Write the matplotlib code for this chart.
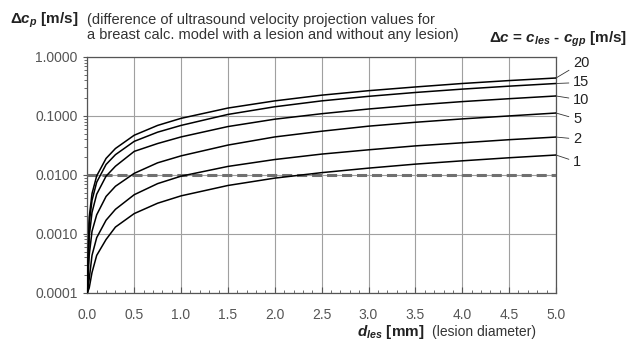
import numpy as np
import matplotlib
matplotlib.use("Agg")
import matplotlib.pyplot as plt
from matplotlib.ticker import MultipleLocator, FormatStrFormatter, LogLocator

plt.rcParams["font.family"] = ["Liberation Sans", "DejaVu Sans"]
plt.rcParams["mathtext.fontset"] = "custom"
plt.rcParams["mathtext.rm"] = "Liberation Sans"
plt.rcParams["mathtext.it"] = "Liberation Sans:italic"
plt.rcParams["mathtext.bf"] = "Liberation Sans:bold"
plt.rcParams["mathtext.bfit"] = "Liberation Sans:bold:italic"

# lesion diameter [mm]
d_les = [0.0, 0.02, 0.05, 0.1, 0.2, 0.3, 0.5, 0.75, 1.0, 1.5, 2.0, 2.5, 3.0, 3.5, 4.0, 4.5, 5.0]

# delta c_p [m/s] for each delta c = c_les - c_gp
dc_labels = ["20", "15", "10", "5", "2", "1"]
dcp_20 = [1e-4, 0.0019, 0.0048, 0.0096, 0.019, 0.028, 0.047, 0.069, 0.091, 0.136, 0.18, 0.225, 0.268, 0.31, 0.355, 0.398, 0.44]
dcp_15 = [1e-4, 0.0015, 0.0037, 0.0075, 0.015, 0.022, 0.037, 0.053, 0.069, 0.106, 0.143, 0.18, 0.215, 0.25, 0.285, 0.32, 0.355]
dcp_10 = [1e-4, 0.0009, 0.0023, 0.0047, 0.0095, 0.014, 0.025, 0.034, 0.044, 0.066, 0.088, 0.109, 0.131, 0.153, 0.175, 0.196, 0.218]
dcp_5 = [1e-4, 0.00043, 0.0011, 0.0021, 0.0043, 0.0064, 0.0106, 0.016, 0.021, 0.032, 0.044, 0.055, 0.067, 0.078, 0.089, 0.10, 0.112]
dcp_2 = [1e-4, 0.00017, 0.00043, 0.00086, 0.0017, 0.0026, 0.0046, 0.0071, 0.0095, 0.0139, 0.0182, 0.0225, 0.0266, 0.031, 0.035, 0.0395, 0.0438]
dcp_1 = [1e-4, 0.00012, 0.00022, 0.00043, 0.0008, 0.0013, 0.0022, 0.0033, 0.0044, 0.0066, 0.0088, 0.0109, 0.013, 0.0152, 0.0173, 0.0195, 0.0217]
curves = [dcp_20, dcp_15, dcp_10, dcp_5, dcp_2, dcp_1]

threshold = 0.01

# label offsets (pixels) from the curve end
label_dy = [15, 1, -4, -6, -2, -7]

fig = plt.figure(figsize=(6.36, 3.45), dpi=100)
ax = fig.add_axes([0.1373, 0.1516, 0.7369, 0.6832])

for vals in curves:
    ax.plot(d_les, vals, color="black", lw=1.1, zorder=5)

ax.axhline(threshold, color="#707070", lw=2.2, linestyle=(0, (3.3, 1.6)), zorder=4)

ax.set_yscale("log")
ax.set_xlim(0, 5)
ax.set_ylim(1e-4, 1)

ax.xaxis.set_major_locator(MultipleLocator(0.5))
ax.xaxis.set_minor_locator(MultipleLocator(0.1))
ax.xaxis.set_major_formatter(FormatStrFormatter("%.1f"))
ax.yaxis.set_major_locator(LogLocator(base=10, numticks=10))
ax.yaxis.set_minor_locator(LogLocator(base=10, subs=np.arange(2, 10), numticks=10))
ax.yaxis.set_major_formatter(FormatStrFormatter("%.4f"))

ax.grid(which="major", color="#a0a0a0", lw=0.8, zorder=0)
ax.tick_params(axis="x", which="both", direction="in", colors="#555555",
               labelsize=10, pad=11)
ax.tick_params(axis="x", which="major", length=4)
ax.tick_params(axis="x", which="minor", length=2.5)
ax.tick_params(axis="y", which="both", direction="out", colors="#555555",
               labelsize=10, pad=4)
ax.tick_params(axis="y", which="major", length=3)
ax.tick_params(axis="y", which="minor", length=2)
for sp in ax.spines.values():
    sp.set_color("#555555")
    sp.set_linewidth(0.9)

for lab, vals, dy in zip(dc_labels, curves, label_dy):
    ax.annotate(lab, xy=(d_les[-1], vals[-1]), xycoords="data",
                xytext=(17, dy), textcoords="offset pixels",
                ha="left", va="center", fontsize=10.5, color="#222222",
                annotation_clip=False,
                arrowprops=dict(arrowstyle="-", lw=0.6, color="#333333",
                                shrinkA=1, shrinkB=0))

fig.text(10 / 636, 1 - 24 / 345, "Δ$\\mathbfit{c}_{\\mathbfit{p}}$ [m/s]",
         fontsize=11, fontweight="bold", color="#222222", ha="left", va="baseline")
fig.text(87 / 636, 1 - 24 / 345,
         "(difference of ultrasound velocity projection values for",
         fontsize=10.5, color="#333333", ha="left", va="baseline")
fig.text(87 / 636, 1 - 39 / 345,
         "a breast calc. model with a lesion and without any lesion)",
         fontsize=10.5, color="#333333", ha="left", va="baseline")
fig.text(489 / 636, 1 - 43 / 345,
         "Δ$\\mathbfit{c}$ = $\\mathbfit{c}_{\\mathbfit{les}}$ - $\\mathbfit{c}_{\\mathbfit{gp}}$ [m/s]",
         fontsize=11, fontweight="bold", color="#222222", ha="left", va="baseline")
fig.text(357 / 636, 1 - 336 / 345, "$\\mathbfit{d}_{\\mathbfit{les}}$ [mm]",
         fontsize=11, fontweight="bold", color="#222222", ha="left", va="baseline")
fig.text(432 / 636, 1 - 336 / 345, "(lesion diameter)",
         fontsize=10, color="#333333", ha="left", va="baseline")

fig.savefig("out.png", dpi=100)
